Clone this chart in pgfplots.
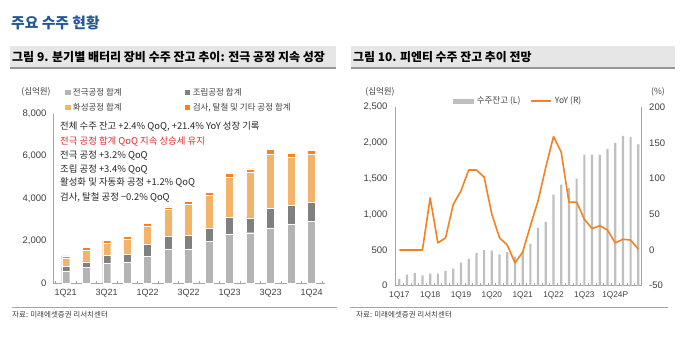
\documentclass[border=0pt]{standalone}
\usepackage{fontspec}
\setmainfont{Liberation Sans}
\newfontfamily\kr{Noto Sans CJK KR}
\usepackage{pgfplots}
\usepackage{pgfplotstable}
\pgfplotsset{compat=1.18}
\definecolor{titleBlue}{RGB}{35,88,150}
\definecolor{bandGray}{RGB}{230,230,230}
\definecolor{bandLine}{RGB}{150,150,150}
\definecolor{axisGray}{RGB}{165,165,165}
\definecolor{txt}{RGB}{38,38,38}
\definecolor{tickc}{RGB}{64,64,64}
\definecolor{cA}{RGB}{180,180,180}
\definecolor{cB}{RGB}{128,128,128}
\definecolor{cC}{RGB}{243,179,107}
\definecolor{cD}{RGB}{245,130,32}
\definecolor{barG}{RGB}{191,191,191}
\definecolor{lineO}{RGB}{245,130,32}
\definecolor{redT}{RGB}{225,45,45}

\pgfplotstableread{
x a b c d
0 570 240 390 100
1 760 260 530 140
2 950 370 580 120
3 1020 360 710 130
4 1290 570 850 120
5 1630 610 1240 130
6 1630 620 1465 135
7 1980 620 1540 140
8 2340 780 1890 160
9 2390 700 2160 140
10 2620 910 2570 200
11 2810 860 2290 160
12 2940 870 2280 180
}\lefttable

\pgfplotstableread{
x bl yoy
0 95 0
1 155 0
2 175 0
3 145 0
4 168 73
5 170 10
6 208 17
7 240 64
8 323 83
9 375 112
10 455 112
11 497 102
12 493 50
13 440 17
14 472 7
15 408 -18
16 480 -3
17 588 34
18 815 69
19 895 116
20 1275 159
21 1415 137
22 1370 67
23 1500 67
24 1835 43
25 1835 30
26 1835 34
27 1915 28
28 2000 10
29 2100 15
30 2085 14
31 1980 1
}\righttable

\pgfplotsset{
  sq/.style={legend image code/.code={\fill[#1] (0pt,-2.2pt) rectangle (4.4pt,2.2pt);}},
  common/.style={
    scale only axis,
    /pgf/number format/assume math mode=true,
    /pgf/number format/1000 sep={,},
    axis line style={draw=axisGray, line width=0.7pt},
    tick align=inside,
    major tick length=0pt,
    minor tick length=2.5pt,
    minor tick style={draw=axisGray, line width=0.5pt},
    ytick style={draw=none},
  },
}

\begin{document}
\begin{tikzpicture}
\path (0pt,0pt) rectangle (700pt,-347pt);

% title
\node[anchor=west, inner sep=0pt, text=titleBlue, font=\kr\bfseries\fontsize{14.8}{16}\selectfont] at (11pt,-23pt) {주요 수주 현황};

% header bands
\fill[bandGray] (10pt,-46pt) rectangle (336pt,-68pt);
\draw[bandLine, line width=1.6pt] (10pt,-68pt) -- (336pt,-68pt);
\fill[bandGray] (351pt,-46pt) rectangle (675pt,-68pt);
\draw[bandLine, line width=1.6pt] (351pt,-68pt) -- (675pt,-68pt);
\node[anchor=west, inner sep=0pt, text=black, font=\kr\bfseries\fontsize{12}{13}\selectfont] at (12pt,-57.5pt) {그림 9. 분기별 배터리 장비 수주 잔고 추이: 전극 공정 지속 성장};
\node[anchor=west, inner sep=0pt, text=black, font=\kr\bfseries\fontsize{11.9}{13}\selectfont] at (353pt,-57pt) {그림 10. 피엔티 수주 잔고 추이 전망};

% unit labels
\node[text=tickc, inner sep=0pt, font=\kr\fontsize{8.5}{10}\selectfont] at (36pt,-92pt) {(십억원)};
\node[text=tickc, inner sep=0pt, font=\kr\fontsize{8.5}{10}\selectfont] at (380pt,-92pt) {(십억원)};
\node[text=tickc, inner sep=0pt, font=\kr\fontsize{8.5}{10}\selectfont] at (658pt,-92pt) {(\%)};

% ---------- left chart ----------
\begin{axis}[common,
  at={(53pt,-283.5pt)}, anchor=south west,
  width=272pt, height=170pt,
  xmin=-0.62, xmax=12.65, ymin=0, ymax=8000,
  ybar stacked, bar width=8pt,
  axis x line*=bottom, axis y line*=left,
  xtick={0,2,...,12},
  xticklabels={1Q21,3Q21,1Q22,3Q22,1Q23,3Q23,1Q24},
  minor xtick={-0.5,0.5,...,12.5},
  ytick={0,2000,...,8000},
  xticklabel style={font=\fontsize{9}{10}\selectfont, text=tickc, yshift=-2pt},
  yticklabel style={font=\fontsize{9.5}{10}\selectfont, text=tickc, xshift=-3pt},
  legend columns=2, legend cell align=left,
  legend style={draw=none, fill=none, at={(0.033,1.175)}, anchor=north west,
    font=\kr\fontsize{8.5}{9}\selectfont, text=tickc, row sep=2.5pt,
    /tikz/every odd column/.style={column sep=1pt}},
]
\addplot[fill=cA, draw=white, line width=0.4pt, sq=cA] table[x=x,y=a] {\lefttable};
\addlegendentry{\makebox[110pt][l]{전극공정 합계}}
\addplot[fill=cB, draw=white, line width=0.4pt, sq=cB] table[x=x,y=b] {\lefttable};
\addlegendentry{조립공정 합계}
\addplot[fill=cC, draw=white, line width=0.4pt, sq=cC] table[x=x,y=c] {\lefttable};
\addlegendentry{\makebox[110pt][l]{화성공정 합계}}
\addplot[fill=cD, draw=white, line width=0.4pt, sq=cD] table[x=x,y=d] {\lefttable};
\addlegendentry{검사, 탈철 및 기타 공정 합계}
\end{axis}

% annotations
\begin{scope}[every node/.style={anchor=west, inner sep=0pt, font=\kr\fontsize{9.4}{10}\selectfont, text=txt}]
\node at (60pt,-127pt) {전체 수주 잔고 +2.4\% QoQ, +21.4\% YoY 성장 기록};
\node[text=redT] at (60pt,-141.5pt) {전극 공정 합계 QoQ 지속 상승세 유지};
\node at (60pt,-155pt) {전극 공정 +3.2\% QoQ};
\node at (60pt,-169pt) {조립 공정 +3.4\% QoQ};
\node at (60pt,-182.5pt) {활성화 및 자동화 공정 +1.2\% QoQ};
\node at (60pt,-197pt) {검사, 탈철 공정 −0.2\% QoQ};
\end{scope}

% ---------- right chart ----------
\begin{axis}[common,
  at={(395pt,-285.7pt)}, anchor=south west,
  width=246.7pt, height=178.5pt,
  xmin=-0.56, xmax=31.44, ymin=0, ymax=2500,
  axis x line*=bottom, axis y line*=left,
  xtick={0,4,...,28},
  xticklabels={1Q17,1Q18,1Q19,1Q20,1Q21,1Q22,1Q23,1Q24P},
  minor xtick={-0.5,0.5,...,31.5},
  ytick={0,500,...,2500},
  xticklabel style={font=\fontsize{8.3}{10}\selectfont, text=tickc, yshift=-2.5pt},
  yticklabel style={font=\fontsize{9.5}{10}\selectfont, text=tickc, xshift=-4pt},
]
\addplot[ybar, bar width=2.2pt, fill=barG, draw=none] table[x=x,y=bl] {\righttable};
\end{axis}

\begin{axis}[common,
  at={(395pt,-285.7pt)}, anchor=south west,
  width=246.7pt, height=178.5pt,
  xmin=-0.56, xmax=31.44, ymin=-50, ymax=200,
  axis x line=none, axis y line*=right,
  ytick={-50,0,...,200},
  yticklabel style={font=\fontsize{9.5}{10}\selectfont, text=tickc, xshift=4pt},
  legend columns=2,
  legend style={draw=none, fill=none, at={(0.5,1.035)}, anchor=center,
    font=\kr\fontsize{8.5}{10}\selectfont, text=tickc,
    /tikz/every odd column/.style={column sep=1pt},
    /tikz/every even column/.style={column sep=8pt}},
]
\addlegendimage{legend image code/.code={\fill[barG] (0pt,-1.8pt) rectangle (20pt,1.8pt);}}
\addlegendentry{수주잔고 (L)}
\addplot[lineO, line width=1.6pt, line join=round, mark=none,
  legend image code/.code={\draw[lineO, line width=1.5pt] (0pt,0pt) -- (20pt,0pt);}]
  table[x=x,y=yoy] {\righttable};
\addlegendentry{YoY (R)}
\end{axis}

% source lines
\draw[axisGray, line width=0.8pt] (12pt,-307.5pt) -- (337pt,-307.5pt);
\draw[axisGray, line width=0.8pt] (350pt,-307.5pt) -- (668pt,-307.5pt);
\node[anchor=west, inner sep=0pt, text=tickc, font=\kr\fontsize{7.5}{9}\selectfont] at (12pt,-314.5pt) {자료: 미래에셋증권 리서치센터};
\node[anchor=west, inner sep=0pt, text=tickc, font=\kr\fontsize{7.5}{9}\selectfont] at (356pt,-314.5pt) {자료: 미래에셋증권 리서치센터};
\end{tikzpicture}
\end{document}
